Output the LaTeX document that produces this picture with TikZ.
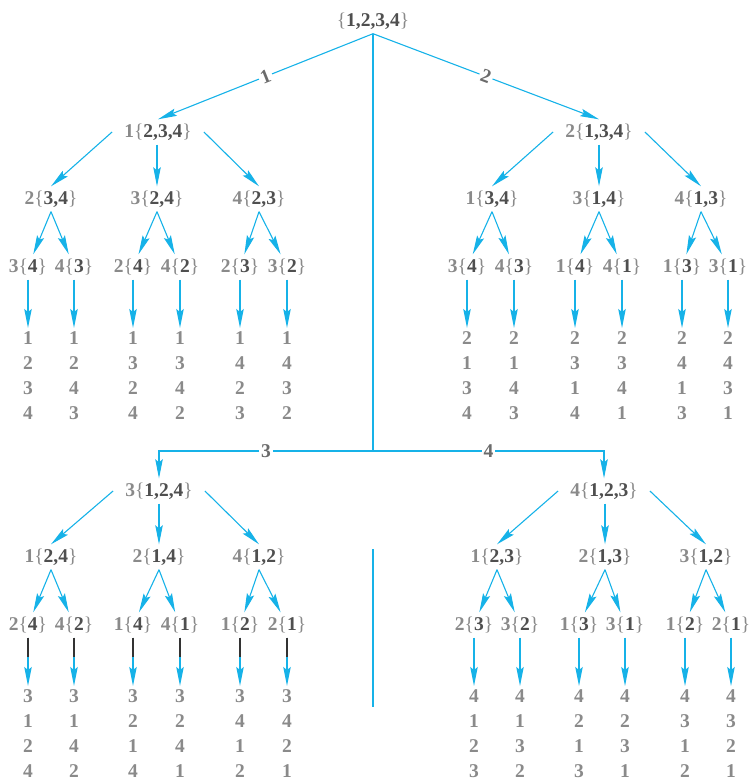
\documentclass[tikz,border=0pt]{standalone}
\usepackage{fontspec}
\setmainfont{Liberation Serif}
\usetikzlibrary{arrows.meta}
\definecolor{cy}{RGB}{22,178,232}
\definecolor{lt}{HTML}{8A8A8A}
\definecolor{dk}{HTML}{4F4F4F}
\definecolor{lb}{HTML}{6B6B6B}
\newcommand\pn[2]{#1{\mdseries\{}\textcolor{dk}{#2}{\mdseries\}}}
\begin{document}
\begin{tikzpicture}[x=1pt,y=-1pt,
  every node/.style={font=\fontsize{19.5}{25}\selectfont\bfseries, text=lt},
  tn/.style={inner xsep=12pt, inner ysep=4pt, text height=13.5pt, text depth=3.5pt},
  leaf/.style={align=center, anchor=north, inner xsep=2pt, inner ysep=3pt},
  edge/.style={draw=cy, line width=1.1pt},
  arr/.style={edge, -{Stealth[length=19pt,width=7.5pt,inset=3pt]}},
  elab/.style={fill=white, text=lb, inner sep=2pt},
  blk/.style={draw=black!80, line width=2pt}]
\useasboundingbox (0,0) rectangle (751,782);

% root and first level
\node[tn] (r) at (373,21) {\pn{}{1,2,3,4}};
\node[tn] (A) at (158,132) {\pn{1}{2,3,4}};
\node[tn] (B) at (599,132) {\pn{2}{1,3,4}};
\node[tn] (C) at (159,491) {\pn{3}{1,2,4}};
\node[tn] (D) at (604,491) {\pn{4}{1,2,3}};
\coordinate (hm) at (373,451);
\coordinate (hl) at (159,451);
\coordinate (hr) at (604,451);
\coordinate (s1) at (373,549);
\coordinate (s2) at (373,707);

\draw[arr] (r.south) -- node[elab, sloped] {1} (A.north);
\draw[arr] (r.south) -- node[elab, sloped] {2} (B.north);
\draw[edge] (r.south) -- (hm);
\draw[arr] (hm) -- node[elab] {3} (hl) -- (C.north);
\draw[arr] (hm) -- node[elab] {4} (hr) -- (D.north);
\draw[edge] (s1) -- (s2);

% ---------- top left subtree ----------
\node[tn] (a1) at (51,199) {\pn{2}{3,4}};
\node[tn] (a2) at (157,199) {\pn{3}{2,4}};
\node[tn] (a3) at (259,199) {\pn{4}{2,3}};
\draw[arr] (A.west) -- (a1.north);
\draw[arr] (a2.north |- A.south) -- (a2.north);
\draw[arr] (A.east) -- (a3.north);
\node[tn] (a11) at (28,267) {\pn{3}{4}};
\node[tn] (a12) at (74,267) {\pn{4}{3}};
\node[tn] (a21) at (133,267) {\pn{2}{4}};
\node[tn] (a22) at (180,267) {\pn{4}{2}};
\node[tn] (a31) at (240,267) {\pn{2}{3}};
\node[tn] (a32) at (287,267) {\pn{3}{2}};
\draw[arr] (a1.south) -- (a11); \draw[arr] (a1.south) -- (a12);
\draw[arr] (a2.south) -- (a21); \draw[arr] (a2.south) -- (a22);
\draw[arr] (a3.south) -- (a31); \draw[arr] (a3.south) -- (a32);
\node[leaf] (la11) at (28,328) {1\\2\\3\\4};
\node[leaf] (la12) at (74,328) {1\\2\\4\\3};
\node[leaf] (la21) at (133,328) {1\\3\\2\\4};
\node[leaf] (la22) at (180,328) {1\\3\\4\\2};
\node[leaf] (la31) at (240,328) {1\\4\\2\\3};
\node[leaf] (la32) at (287,328) {1\\4\\3\\2};
\foreach \n in {11,12,21,22,31,32} \draw[arr] (a\n.south) -- (la\n.north);

% ---------- top right subtree ----------
\node[tn] (b1) at (492,199) {\pn{1}{3,4}};
\node[tn] (b2) at (599,199) {\pn{3}{1,4}};
\node[tn] (b3) at (701,199) {\pn{4}{1,3}};
\draw[arr] (B.west) -- (b1.north);
\draw[arr] (b2.north |- B.south) -- (b2.north);
\draw[arr] (B.east) -- (b3.north);
\node[tn] (b11) at (467,267) {\pn{3}{4}};
\node[tn] (b12) at (514,267) {\pn{4}{3}};
\node[tn] (b21) at (575,267) {\pn{1}{4}};
\node[tn] (b22) at (622,267) {\pn{4}{1}};
\node[tn] (b31) at (682,267) {\pn{1}{3}};
\node[tn] (b32) at (728,267) {\pn{3}{1}};
\draw[arr] (b1.south) -- (b11); \draw[arr] (b1.south) -- (b12);
\draw[arr] (b2.south) -- (b21); \draw[arr] (b2.south) -- (b22);
\draw[arr] (b3.south) -- (b31); \draw[arr] (b3.south) -- (b32);
\node[leaf] (lb11) at (467,328) {2\\1\\3\\4};
\node[leaf] (lb12) at (514,328) {2\\1\\4\\3};
\node[leaf] (lb21) at (575,328) {2\\3\\1\\4};
\node[leaf] (lb22) at (622,328) {2\\3\\4\\1};
\node[leaf] (lb31) at (682,328) {2\\4\\1\\3};
\node[leaf] (lb32) at (728,328) {2\\4\\3\\1};
\foreach \n in {11,12,21,22,31,32} \draw[arr] (b\n.south) -- (lb\n.north);

% ---------- bottom left subtree ----------
\node[tn] (c1) at (51,557) {\pn{1}{2,4}};
\node[tn] (c2) at (159,557) {\pn{2}{1,4}};
\node[tn] (c3) at (259,557) {\pn{4}{1,2}};
\draw[arr] (C.west) -- (c1.north);
\draw[arr] (c2.north |- C.south) -- (c2.north);
\draw[arr] (C.east) -- (c3.north);
\node[tn] (c11) at (28,625) {\pn{2}{4}};
\node[tn] (c12) at (74,625) {\pn{4}{2}};
\node[tn] (c21) at (133,625) {\pn{1}{4}};
\node[tn] (c22) at (180,625) {\pn{4}{1}};
\node[tn] (c31) at (240,625) {\pn{1}{2}};
\node[tn] (c32) at (287,625) {\pn{2}{1}};
\draw[arr] (c1.south) -- (c11); \draw[arr] (c1.south) -- (c12);
\draw[arr] (c2.south) -- (c21); \draw[arr] (c2.south) -- (c22);
\draw[arr] (c3.south) -- (c31); \draw[arr] (c3.south) -- (c32);
\node[leaf] (lc11) at (28,686) {3\\1\\2\\4};
\node[leaf] (lc12) at (74,686) {3\\1\\4\\2};
\node[leaf] (lc21) at (133,686) {3\\2\\1\\4};
\node[leaf] (lc22) at (180,686) {3\\2\\4\\1};
\node[leaf] (lc31) at (240,686) {3\\4\\1\\2};
\node[leaf] (lc32) at (287,686) {3\\4\\2\\1};
\foreach \n in {11,12,21,22,31,32} {
  \draw[arr] (c\n.south) -- (lc\n.north);
  \draw[blk] (c\n.south) -- ++(0,19);
}

% ---------- bottom right subtree ----------
\node[tn] (d1) at (497,557) {\pn{1}{2,3}};
\node[tn] (d2) at (605,557) {\pn{2}{1,3}};
\node[tn] (d3) at (706,557) {\pn{3}{1,2}};
\draw[arr] (D.west) -- (d1.north);
\draw[arr] (d2.north |- D.south) -- (d2.north);
\draw[arr] (D.east) -- (d3.north);
\node[tn] (d11) at (474,625) {\pn{2}{3}};
\node[tn] (d12) at (520,625) {\pn{3}{2}};
\node[tn] (d21) at (579,625) {\pn{1}{3}};
\node[tn] (d22) at (625,625) {\pn{3}{1}};
\node[tn] (d31) at (685,625) {\pn{1}{2}};
\node[tn] (d32) at (731,625) {\pn{2}{1}};
\draw[arr] (d1.south) -- (d11); \draw[arr] (d1.south) -- (d12);
\draw[arr] (d2.south) -- (d21); \draw[arr] (d2.south) -- (d22);
\draw[arr] (d3.south) -- (d31); \draw[arr] (d3.south) -- (d32);
\node[leaf] (ld11) at (474,686) {4\\1\\2\\3};
\node[leaf] (ld12) at (520,686) {4\\1\\3\\2};
\node[leaf] (ld21) at (579,686) {4\\2\\1\\3};
\node[leaf] (ld22) at (625,686) {4\\2\\3\\1};
\node[leaf] (ld31) at (685,686) {4\\3\\1\\2};
\node[leaf] (ld32) at (731,686) {4\\3\\2\\1};
\foreach \n in {11,12,21,22,31,32} \draw[arr] (d\n.south) -- (ld\n.north);
\end{tikzpicture}
\end{document}
